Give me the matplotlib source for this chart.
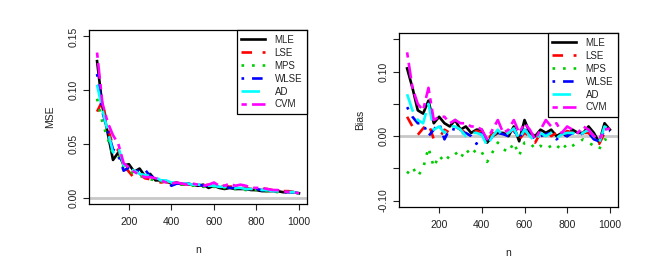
import numpy as np
import matplotlib
matplotlib.use("Agg")
import matplotlib.pyplot as plt

plt.rcParams["font.family"] = ["Liberation Sans", "DejaVu Sans"]

n = np.arange(50, 1001, 25)

# MSE panel
mse_mle = [0.127, 0.085, 0.060, 0.035, 0.042, 0.030, 0.031, 0.024, 0.027, 0.020, 0.022, 0.016, 0.016,
           0.015, 0.013, 0.014, 0.012, 0.013, 0.012, 0.011, 0.012, 0.009, 0.011, 0.009, 0.008, 0.009,
           0.008, 0.008, 0.008, 0.007, 0.007, 0.006, 0.006, 0.006, 0.006, 0.005, 0.005, 0.005, 0.004]
mse_lse = [0.080, 0.090, 0.065, 0.048, 0.044, 0.030, 0.024, 0.018, 0.022, 0.018, 0.017, 0.016, 0.014,
           0.015, 0.013, 0.013, 0.013, 0.012, 0.012, 0.012, 0.011, 0.012, 0.011, 0.010, 0.011, 0.010,
           0.011, 0.009, 0.009, 0.008, 0.009, 0.008, 0.008, 0.007, 0.007, 0.006, 0.006, 0.005, 0.004]
mse_mps = [0.092, 0.070, 0.055, 0.040, 0.038, 0.028, 0.025, 0.022, 0.020, 0.019, 0.017, 0.016, 0.015,
           0.014, 0.012, 0.013, 0.012, 0.012, 0.011, 0.011, 0.010, 0.010, 0.010, 0.009, 0.009, 0.008,
           0.008, 0.008, 0.007, 0.007, 0.007, 0.006, 0.006, 0.006, 0.005, 0.005, 0.005, 0.004, 0.004]
mse_wlse = [0.115, 0.080, 0.062, 0.045, 0.040, 0.025, 0.028, 0.027, 0.024, 0.026, 0.020, 0.018, 0.016,
            0.015, 0.011, 0.013, 0.013, 0.013, 0.012, 0.012, 0.011, 0.011, 0.011, 0.010, 0.010, 0.009,
            0.009, 0.009, 0.008, 0.008, 0.008, 0.007, 0.007, 0.006, 0.006, 0.005, 0.005, 0.005, 0.004]
mse_ad = [0.105, 0.082, 0.062, 0.042, 0.047, 0.030, 0.027, 0.025, 0.022, 0.021, 0.020, 0.019, 0.016,
          0.016, 0.014, 0.014, 0.013, 0.013, 0.012, 0.012, 0.012, 0.011, 0.011, 0.010, 0.010, 0.010,
          0.009, 0.009, 0.008, 0.008, 0.008, 0.007, 0.007, 0.006, 0.006, 0.005, 0.005, 0.005, 0.004]
mse_cvm = [0.135, 0.088, 0.070, 0.058, 0.050, 0.032, 0.028, 0.024, 0.021, 0.019, 0.019, 0.018, 0.016,
           0.014, 0.013, 0.014, 0.013, 0.012, 0.013, 0.012, 0.011, 0.012, 0.014, 0.011, 0.011, 0.013,
           0.011, 0.012, 0.011, 0.009, 0.009, 0.009, 0.008, 0.007, 0.007, 0.006, 0.005, 0.005, 0.004]

# Bias panel
bias_mle = [0.105, 0.075, 0.040, 0.035, 0.055, 0.020, 0.030, 0.020, 0.015, 0.025, 0.010, 0.015, 0.005,
            0.010, 0.010, -0.010, 0.000, 0.005, 0.005, 0.000, 0.015, -0.008, 0.025, 0.005, 0.000, 0.010,
            0.005, 0.010, 0.000, 0.005, 0.000, 0.010, 0.005, 0.005, 0.015, 0.005, -0.010, 0.020, 0.010]
bias_lse = [0.030, 0.015, 0.002, 0.012, 0.020, -0.005, -0.003, 0.010, 0.005, 0.015, 0.010, 0.005, 0.005,
            0.008, 0.005, -0.008, 0.005, 0.002, 0.000, 0.005, 0.010, -0.005, 0.005, 0.000, -0.010, 0.005,
            0.010, 0.000, 0.005, 0.000, 0.008, 0.005, 0.010, 0.005, 0.005, -0.005, -0.012, 0.005, 0.010]
bias_mps = [-0.058, -0.048, -0.062, -0.050, -0.018, -0.048, -0.030, -0.040, -0.030, -0.025, -0.035, -0.020,
            -0.030, -0.020, -0.025, -0.040, -0.025, -0.010, -0.020, -0.025, -0.010, -0.030, -0.010, -0.010,
            -0.020, -0.015, -0.020, -0.015, -0.020, -0.010, -0.020, -0.015, -0.010, -0.005, -0.010, -0.015,
            -0.020, -0.005, -0.008]
bias_wlse = [0.045, 0.030, 0.020, 0.020, 0.000, 0.010, 0.020, -0.005, 0.012, 0.010, 0.005, 0.005, 0.000,
             -0.012, 0.005, -0.010, 0.000, 0.005, 0.003, 0.000, 0.008, -0.003, 0.010, 0.005, -0.005, 0.000,
             0.003, 0.005, -0.005, 0.002, 0.000, 0.005, 0.000, 0.005, 0.005, -0.005, -0.008, 0.010, 0.008]
bias_ad = [0.065, 0.040, 0.025, 0.020, 0.050, 0.010, 0.015, 0.005, 0.015, 0.015, 0.010, 0.000, 0.005,
           0.005, 0.002, -0.015, 0.000, 0.010, 0.000, 0.005, 0.012, -0.005, 0.010, 0.000, -0.008, 0.005,
           0.000, 0.005, -0.003, 0.003, 0.005, 0.005, 0.000, 0.005, 0.010, 0.000, -0.010, 0.015, 0.010]
bias_cvm = [0.130, 0.075, 0.050, 0.040, 0.075, 0.025, 0.030, 0.030, 0.020, 0.025, 0.020, 0.020, 0.015,
            0.015, 0.010, -0.005, 0.010, 0.025, 0.005, 0.010, 0.025, 0.005, 0.020, 0.010, -0.005, 0.010,
            0.025, 0.015, 0.020, 0.005, 0.015, 0.010, 0.005, 0.015, 0.010, 0.000, -0.005, 0.010, 0.012]

labels = ["MLE", "LSE", "MPS", "WLSE", "AD", "CVM"]
colors = ["black", "#ff0000", "#00cd00", "#0000ff", "#00ffff", "#ff00ff"]
# R lty 1..6
dashes = ["-", (0, (4, 4)), (0, (1, 3)), (0, (1, 3, 4, 3)), (0, (7, 3)), (0, (2, 2, 6, 2))]

fig = plt.figure(figsize=(6.51, 2.79), dpi=100)
ax1 = fig.add_axes([0.1367, 0.2688, 0.3349, 0.6237])
ax2 = fig.add_axes([0.6129, 0.2580, 0.3364, 0.6237])

txt = "#222222"


def panel(ax, series, ylabel, ylim, yticks, yticklabels):
    ax.axhline(0, color="#c8c8c8", lw=2, zorder=1)
    for s, lab, c, ls in zip(series, labels, colors, dashes):
        ax.plot(n, s, color=c, lw=1.9, linestyle=ls, label=lab, zorder=2)
    ax.set_xlim(12, 1038)
    ax.set_ylim(*ylim)
    ax.set_xticks([200, 400, 600, 800, 1000])
    ax.set_yticks(yticks)
    ax.set_yticklabels(yticklabels, rotation=90, va="center")
    ax.tick_params(length=4.5, width=0.8, labelsize=7.5, colors=txt, pad=3)
    ax.tick_params(axis="x", pad=5)
    for sp in ax.spines.values():
        sp.set_linewidth(0.9)
    ax.set_xlabel("n", fontsize=7.5, color=txt, labelpad=13)
    ax.set_ylabel(ylabel, fontsize=7.5, color=txt, labelpad=10)
    leg = ax.legend(loc="upper right", borderaxespad=0, fancybox=False, framealpha=1,
                    edgecolor="black", fontsize=7, handlelength=2.4, labelspacing=0.3,
                    borderpad=0.5, handletextpad=1.0)
    leg.get_frame().set_linewidth(0.9)
    for t in leg.get_texts():
        t.set_color(txt)


panel(ax1, [mse_mle, mse_lse, mse_mps, mse_wlse, mse_ad, mse_cvm], "MSE",
      (-0.006, 0.156), [0, 0.05, 0.10, 0.15], ["0.00", "0.05", "0.10", "0.15"])
panel(ax2, [bias_mle, bias_lse, bias_mps, bias_wlse, bias_ad, bias_cvm], "Bias",
      (-0.11, 0.16), [-0.10, -0.05, 0, 0.05, 0.10, 0.15], ["-0.10", "", "0.00", "", "0.10", ""])

fig.savefig("out.png", dpi=100)
